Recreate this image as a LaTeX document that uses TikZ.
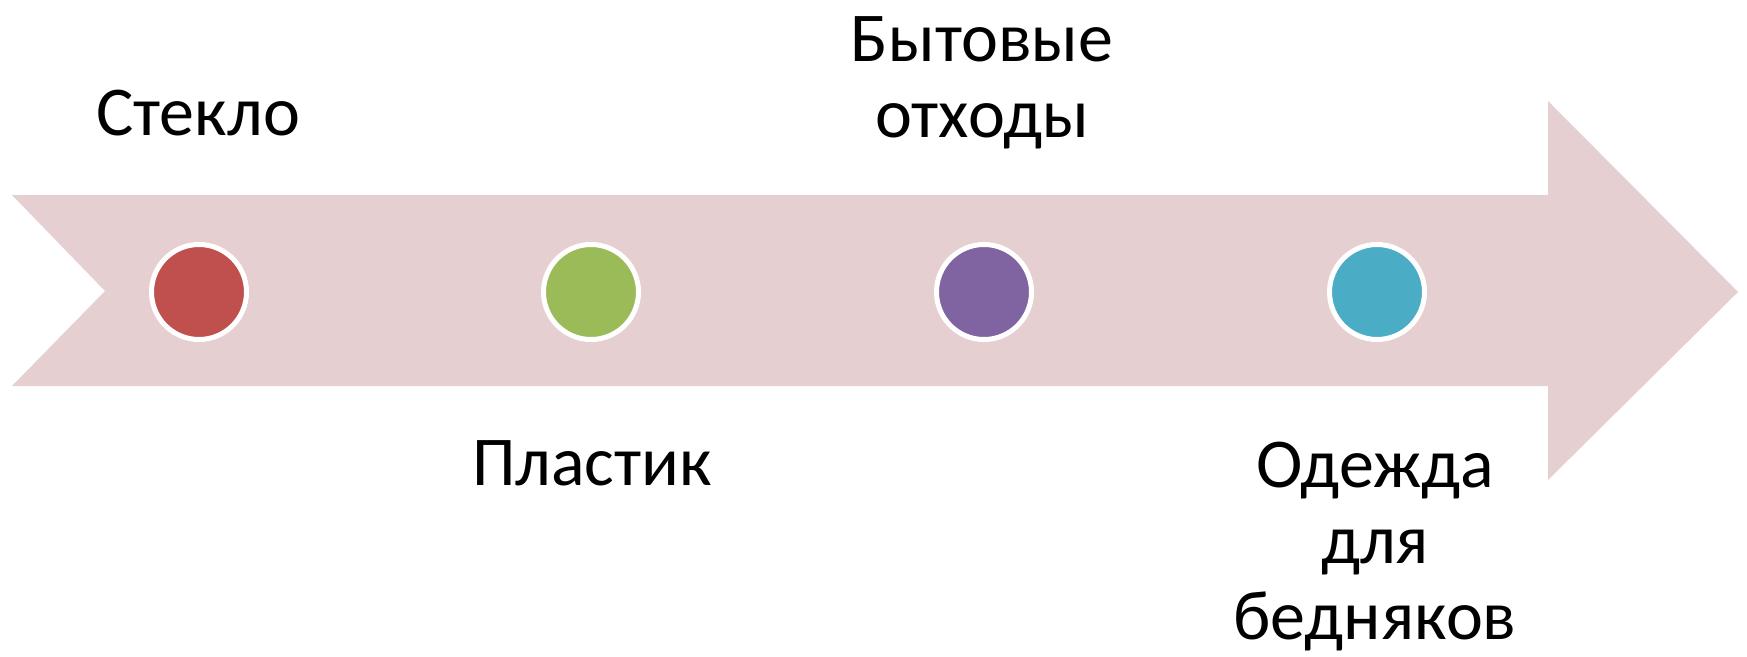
\documentclass[tikz,border=0pt]{standalone}
\usepackage{fontspec}
\setmainfont{Carlito}
\definecolor{band}{RGB}{230,207,208}
\definecolor{dotred}{RGB}{192,80,77}
\definecolor{dotgreen}{RGB}{155,187,89}
\definecolor{dotpurple}{RGB}{128,100,162}
\definecolor{dotblue}{RGB}{75,172,198}

\begin{document}
\begin{tikzpicture}[x=1pt,y=-1pt,
    dot/.style={circle,draw=white,line width=5pt,minimum size=95pt,inner sep=0pt},
    word/.style={font=\fontsize{70}{76}\selectfont,align=center,inner sep=0pt,anchor=base}]
    \useasboundingbox (0,0) rectangle (1747,656);
    %arrow
    \fill[band] (12,195) -- (1548,195) -- (1548,101) -- (1738,292) -- (1548,480)
      -- (1548,386) -- (12,386) -- (105,291) -- cycle;
    %dots
    \foreach \i/\x/\c in {1/199/dotred,2/591/dotgreen,3/984/dotpurple,4/1377/dotblue}
      \node[dot,fill=\c] (dot\i) at (\x,292) {};
    %labels (base = last line)
    \node[word] (glass) at (198,135) {Стекло};
    \node[word] (plastic) at (592,485) {Пластик};
    \node[word] (waste) at (982,137) {Бытовые\\отходы};
    \node[word] (clothes) at (1375,639) {Одежда\\для\\бедняков};
  \end{tikzpicture}
\end{document}
